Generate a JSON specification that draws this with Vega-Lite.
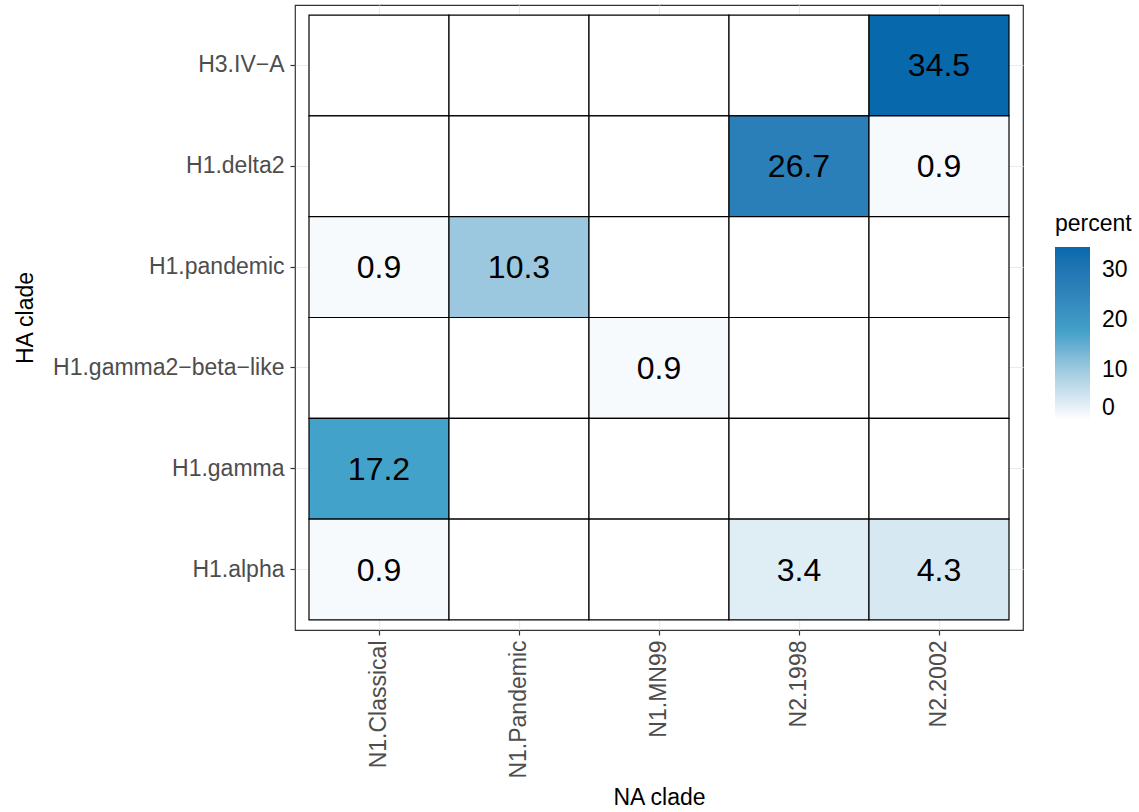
{
  "$schema": "https://vega.github.io/schema/vega-lite/v6.json",
  "autosize": "none",
  "padding": {"left": 295, "top": 5, "right": 116, "bottom": 182},
  "width": 728,
  "height": 625,
  "background": "white",
  "config": {
    "font": "Liberation Sans",
    "view": {"stroke": "#333333", "strokeWidth": 1.2},
    "axis": {
      "domain": false,
      "grid": true,
      "zindex": 0,
      "gridColor": "#EBEBEB",
      "gridWidth": 1.2,
      "bandPosition": 0.5,
      "tickColor": "#333333",
      "tickSize": 5,
      "tickWidth": 1.2,
      "labelColor": "#4D4D4D",
      "labelFont": "Liberation Sans",
      "labelFontSize": 23,
      "labelLimit": 0,
      "titleColor": "black",
      "titleFont": "Liberation Sans",
      "titleFontSize": 23,
      "titleFontWeight": "normal"
    }
  },
  "data": {
    "values": [
      {"NA": "N1.Classical", "HA": "H3.IV-A", "percent": 0},
      {"NA": "N1.Pandemic", "HA": "H3.IV-A", "percent": 0},
      {"NA": "N1.MN99", "HA": "H3.IV-A", "percent": 0},
      {"NA": "N2.1998", "HA": "H3.IV-A", "percent": 0},
      {"NA": "N2.2002", "HA": "H3.IV-A", "percent": 34.5},
      {"NA": "N1.Classical", "HA": "H1.delta2", "percent": 0},
      {"NA": "N1.Pandemic", "HA": "H1.delta2", "percent": 0},
      {"NA": "N1.MN99", "HA": "H1.delta2", "percent": 0},
      {"NA": "N2.1998", "HA": "H1.delta2", "percent": 26.7},
      {"NA": "N2.2002", "HA": "H1.delta2", "percent": 0.9},
      {"NA": "N1.Classical", "HA": "H1.pandemic", "percent": 0.9},
      {"NA": "N1.Pandemic", "HA": "H1.pandemic", "percent": 10.3},
      {"NA": "N1.MN99", "HA": "H1.pandemic", "percent": 0},
      {"NA": "N2.1998", "HA": "H1.pandemic", "percent": 0},
      {"NA": "N2.2002", "HA": "H1.pandemic", "percent": 0},
      {"NA": "N1.Classical", "HA": "H1.gamma2-beta-like", "percent": 0},
      {"NA": "N1.Pandemic", "HA": "H1.gamma2-beta-like", "percent": 0},
      {"NA": "N1.MN99", "HA": "H1.gamma2-beta-like", "percent": 0.9},
      {"NA": "N2.1998", "HA": "H1.gamma2-beta-like", "percent": 0},
      {"NA": "N2.2002", "HA": "H1.gamma2-beta-like", "percent": 0},
      {"NA": "N1.Classical", "HA": "H1.gamma", "percent": 17.2},
      {"NA": "N1.Pandemic", "HA": "H1.gamma", "percent": 0},
      {"NA": "N1.MN99", "HA": "H1.gamma", "percent": 0},
      {"NA": "N2.1998", "HA": "H1.gamma", "percent": 0},
      {"NA": "N2.2002", "HA": "H1.gamma", "percent": 0},
      {"NA": "N1.Classical", "HA": "H1.alpha", "percent": 0.9},
      {"NA": "N1.Pandemic", "HA": "H1.alpha", "percent": 0},
      {"NA": "N1.MN99", "HA": "H1.alpha", "percent": 0},
      {"NA": "N2.1998", "HA": "H1.alpha", "percent": 3.4},
      {"NA": "N2.2002", "HA": "H1.alpha", "percent": 4.3}
    ]
  },
  "encoding": {
    "x": {
      "field": "NA",
      "type": "nominal",
      "sort": ["N1.Classical", "N1.Pandemic", "N1.MN99", "N2.1998", "N2.2002"],
      "scale": {"paddingInner": 0, "paddingOuter": 0.1},
      "axis": {
        "title": "NA clade",
        "labelAngle": -90,
        "labelAlign": "right",
        "labelBaseline": "middle",
        "labelPadding": 5,
        "titleY": 167,
        "titleBaseline": "middle",
        "zindex": 0
      }
    },
    "y": {
      "field": "HA",
      "type": "nominal",
      "sort": ["H3.IV-A", "H1.delta2", "H1.pandemic", "H1.gamma2-beta-like", "H1.gamma", "H1.alpha"],
      "scale": {"paddingInner": 0, "paddingOuter": 0.1},
      "axis": {
        "title": "HA clade",
        "labelPadding": 6,
        "titleX": -270,
        "titleBaseline": "middle",
        "zindex": 0,
        "labelExpr": "replace(datum.label, /-/g, '\u2212')"
      }
    }
  },
  "layer": [
    {
      "mark": {"type": "rect", "stroke": "black", "strokeWidth": 1.2, "opacity": 1, "fillOpacity": 1},
      "encoding": {
        "color": {
          "field": "percent",
          "type": "quantitative",
          "scale": {
            "type": "linear",
            "domain": [0, 10.3, 17.2, 26.7, 34.5],
            "range": ["#ffffff", "#9bc8de", "#43a2ca", "#2b7fb8", "#0868ac"],
            "interpolate": "lab"
          },
          "legend": {
            "title": "percent",
            "orient": "none",
            "legendX": 760,
            "legendY": 208,
            "padding": 0,
            "values": [0, 10, 20, 30],
            "gradientLength": 173,
            "gradientThickness": 35,
            "gradientStrokeWidth": 0,
            "titleFontSize": 23,
            "titleFontWeight": "normal",
            "titleColor": "black",
            "titlePadding": 11,
            "labelFontSize": 23,
            "labelColor": "black",
            "labelOffset": 12,
            "labelOverlap": false,
            "encode": {
              "labels": {
                "update": {
                  "baseline": {"value": "middle"},
                  "y": {"signal": "(1 - datum.perc) * 173"}
                }
              }
            }
          }
        }
      }
    },
    {
      "transform": [{"filter": "datum.percent > 0"}],
      "mark": {"type": "text", "fontSize": 32, "color": "black", "baseline": "middle", "dy": 1},
      "encoding": {
        "text": {"field": "percent", "type": "quantitative", "format": ".1f"}
      }
    }
  ]
}
